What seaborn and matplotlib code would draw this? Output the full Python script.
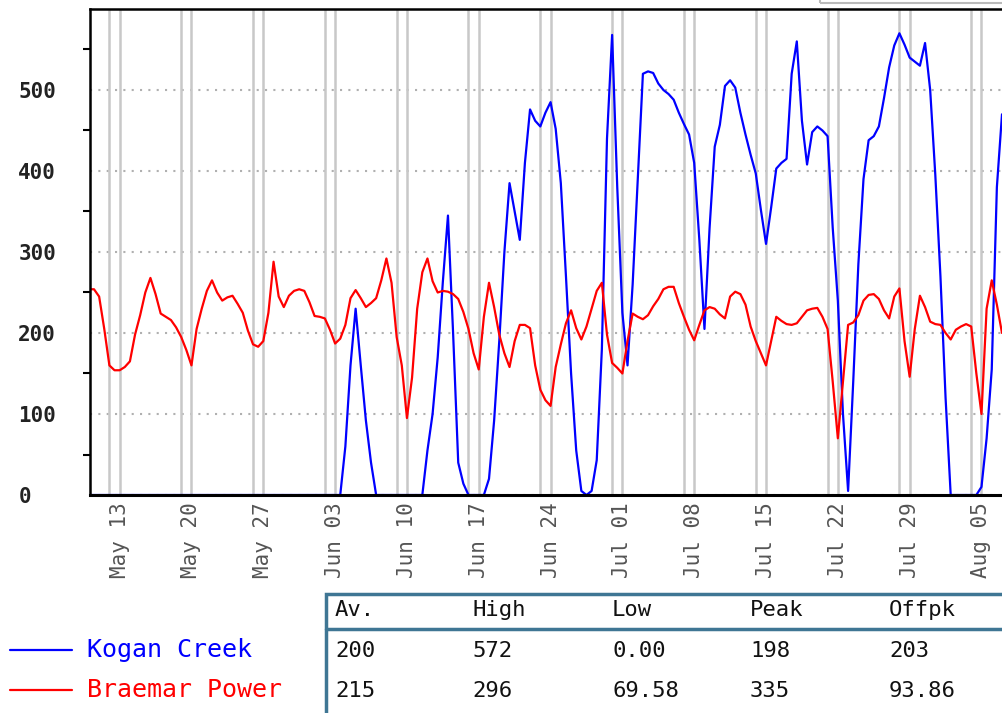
import numpy as np
import pandas as pd
import matplotlib
matplotlib.use("Agg")
import matplotlib.pyplot as plt
import matplotlib.dates as mdates
from matplotlib.lines import Line2D
from matplotlib.patches import Rectangle
import seaborn as sns

# 12-hourly output (MW), starting 10 May 2012
start = "2012-05-10 00:00"

kogan_creek = [
    0, 0, 0, 0, 0, 0, 0, 0, 0, 0,
    0, 0, 0, 0, 0, 0, 0, 0, 0, 0,
    0, 0, 0, 0, 0, 0, 0, 0, 0, 0,
    0, 0, 0, 0, 0, 0, 0, 0, 0, 0,
    0, 0, 0, 0, 0, 0, 0, 0, 0, 0,
    60, 160, 230, 160, 92, 40, 0, 0, 0, 0,
    0, 0, 0, 0, 0, 0, 55, 100, 170, 263,
    345, 200, 40, 14, 0, 0, 0, 0, 20, 92,
    190, 300, 385, 350, 315, 410, 476, 462, 455, 472,
    485, 452, 385, 270, 150, 55, 5, 0, 5, 43,
    180, 440, 568, 380, 225, 160, 260, 390, 520, 523,
    521, 508, 500, 495, 488, 472, 458, 445, 410, 315,
    205, 330, 430, 457, 505, 512, 503, 472, 445, 420,
    397, 352, 310, 355, 403, 410, 415, 520, 560, 462,
    408, 448, 455, 450, 443, 330, 240, 100, 5, 140,
    285, 390, 438, 443, 455, 490, 528, 555, 570, 556,
    540, 535, 530, 558, 500, 395, 270, 120, 0, 0,
    0, 0, 0, 0, 10, 70, 155, 380, 470,
]

braemar_power = [
    254, 254, 245, 205, 160, 154, 154, 158, 165, 198,
    222, 250, 268, 248, 224, 220, 216, 207, 195, 179,
    160, 205, 230, 252, 265, 250, 240, 244, 246, 236,
    225, 203, 186, 183, 190, 225, 288, 245, 232, 246,
    252, 254, 252, 238, 221, 220, 218, 204, 187, 193,
    210, 243, 253, 243, 232, 237, 243, 265, 292, 262,
    195, 160, 95, 145, 230, 275, 292, 264, 250, 252,
    251, 248, 242, 226, 205, 175, 155, 220, 262, 232,
    198, 175, 158, 190, 210, 210, 206, 160, 130, 117,
    110, 158, 186, 212, 228, 206, 192, 208, 230, 252,
    262, 198, 163, 157, 150, 190, 224, 220, 217, 222,
    233, 242, 254, 257, 257, 237, 220, 204, 191, 210,
    228, 232, 230, 223, 218, 245, 251, 248, 235, 208,
    190, 175, 160, 190, 220, 215, 211, 210, 212, 220,
    228, 230, 231, 220, 205, 140, 70, 140, 210, 213,
    222, 240, 247, 248, 242, 228, 218, 245, 255, 190,
    146, 205, 246, 232, 214, 211, 210, 200, 192, 204,
    208, 211, 208, 150, 100, 230, 265, 235, 200,
]

series_names = ["Kogan Creek", "Braemar Power"]
series_colors = ["#0000ff", "#ff0000"]

stat_cols = ["Av.", "High", "Low", "Peak", "Offpk"]
kogan_stats = ["200", "572", "0.00", "198", "203"]
braemar_stats = ["215", "296", "69.58", "335", "93.86"]

times = pd.date_range(start, periods=len(kogan_creek), freq="12h")
df = pd.DataFrame({"time": times,
                   "Kogan Creek": kogan_creek,
                   "Braemar Power": braemar_power})

sns.set_style("white")
mono = "DejaVu Sans Mono"

W, H = 1002, 713


def fx(x):
    return x / W


def fy(y):
    return 1 - y / H


fig = plt.figure(figsize=(W / 100, H / 100), dpi=100)
ax = fig.add_axes([fx(90), fy(495), fx(1002 - 90), (495 - 9) / H])

# weekend shading lines (Sat + Sun)
for d in pd.date_range("2012-05-12", "2012-08-05", freq="D"):
    if d.dayofweek in (5, 6):
        ax.axvline(d, color="#c8c8c8", lw=1.8, zorder=1)

for name, col in zip(series_names, series_colors):
    sns.lineplot(data=df, x="time", y=name, color=col, lw=1.6, ax=ax, zorder=3)

t0 = pd.Timestamp(start)
ax.set_xlim(t0 + pd.Timedelta(days=0.11), t0 + pd.Timedelta(days=89.0))
ax.set_ylim(0, 600)
ax.set_xlabel("")
ax.set_ylabel("")

ax.set_yticks(np.arange(0, 600, 100))
ax.set_yticks(np.arange(50, 600, 100), minor=True)
ax.yaxis.grid(True, which="major", color="#b0b0b0", lw=1.5, linestyle=(0, (1, 3)))
ax.tick_params(axis="y", which="major", direction="out", length=8.6, width=1.5,
               color="black", pad=43, labelsize=15)
ax.tick_params(axis="y", which="minor", direction="out", length=5, width=1.5,
               color="black", left=True)
for lab in ax.get_yticklabels():
    lab.set_horizontalalignment("left")
    lab.set_fontfamily(mono)
    lab.set_fontweight("bold")
    lab.set_color("#222222")

ax.xaxis.set_major_locator(mdates.WeekdayLocator(byweekday=mdates.SU))
ax.xaxis.set_major_formatter(mdates.DateFormatter("%b %d"))
ax.tick_params(axis="x", length=0, pad=5, labelsize=15, labelcolor="#555555")
for lab in ax.get_xticklabels():
    lab.set_rotation(90)
    lab.set_fontfamily(mono)

for s in ["top", "left", "bottom"]:
    ax.spines[s].set_color("black")
    ax.spines[s].set_linewidth(1.8)
    ax.spines[s].set_zorder(5)
ax.spines["bottom"].set_linewidth(2.2)
ax.spines["right"].set_visible(False)

# cropped box at top right
fig.add_artist(Rectangle((fx(820), fy(3)), fx(200), 0.05, transform=fig.transFigure,
                         fill=False, edgecolor="#bbbbbb", lw=1.5))

# legend
for i, (name, col) in enumerate(zip(series_names, series_colors)):
    y = 650 + 40 * i
    fig.add_artist(Line2D([fx(10), fx(72)], [fy(y), fy(y)], color=col, lw=1.6,
                          transform=fig.transFigure))
    fig.text(fx(87), fy(y), name, color=col, fontsize=18, family=mono,
             ha="left", va="center")

# stats table
tcol = "#3f7694"
fig.add_artist(Rectangle((fx(326), fy(760)), fx(720), (760 - 594) / H,
                         transform=fig.transFigure, fill=False, edgecolor=tcol, lw=2.5))
fig.add_artist(Line2D([fx(326), fx(1010)], [fy(629), fy(629)], color=tcol, lw=2.5,
                      transform=fig.transFigure))
col_x = [335, 472, 612, 750, 889]
for cx, head, a, b in zip(col_x, stat_cols, kogan_stats, braemar_stats):
    fig.text(fx(cx), fy(610), head, fontsize=16, family=mono, color="#111111",
             ha="left", va="center")
    fig.text(fx(cx), fy(651), a, fontsize=16, family=mono, color="#111111",
             ha="left", va="center")
    fig.text(fx(cx), fy(691), b, fontsize=16, family=mono, color="#111111",
             ha="left", va="center")

fig.savefig("out.png", dpi=100)
